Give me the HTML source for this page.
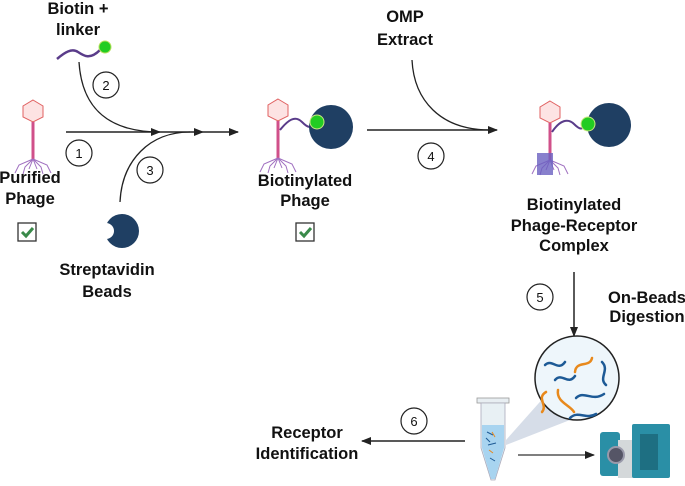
<!DOCTYPE html>
<html><head><style>
body{margin:0;background:#fff}
text{font-family:"Liberation Sans",sans-serif;font-weight:bold;font-size:16.5px;fill:#111;text-anchor:middle}
.n{font-weight:normal;font-size:13px}
</style></head><body>
<svg width="685" height="481" viewBox="0 0 685 481" xmlns="http://www.w3.org/2000/svg">
<defs>
<marker id="a" markerWidth="10" markerHeight="8" refX="9" refY="4" orient="auto" markerUnits="userSpaceOnUse"><path d="M0,0 L10,4 L0,8z" fill="#222"/></marker>
<mask id="bite"><rect x="0" y="0" width="685" height="481" fill="#fff"/><circle cx="106" cy="231" r="8" fill="#000"/></mask>
<g id="phage">
<polygon points="0,-11 10,-5 10,6 0,11 -10,6 -10,-5" fill="#fde3e3" stroke="#e06060" stroke-width="1"/>
<rect x="-1.5" y="11" width="3" height="37" fill="#d0508a"/>
<path d="M0,48 L-14,54 L-18,62 M0,48 L-8,56 L-10,63 M0,48 L8,56 L10,63 M0,48 L14,54 L18,62 M0,48 L-4,58 M0,48 L4,58" stroke="#a070c0" stroke-width="1" fill="none"/>
</g>
<g id="chk"><rect x="-9" y="-9" width="18" height="18" fill="#fff" stroke="#333" stroke-width="1.3"/><path d="M-5,0 L-1,4 L6,-4" stroke="#3a8a4a" stroke-width="3" fill="none"/></g>
</defs>
<text x="78" y="14">Biotin +</text><text x="78" y="35">linker</text>
<path d="M57,59 C65,52 72,48 78,52 S90,60 100,50" stroke="#5a3c8a" stroke-width="2.5" fill="none"/>
<circle cx="105" cy="47" r="6" fill="#22cc22" stroke="#b8e060"/>
<path d="M79,62 C82,110 110,132 160,132" stroke="#222" stroke-width="1.3" fill="none"/>
<path d="M120,202 C122,160 150,132 190,132" stroke="#222" stroke-width="1.3" fill="none"/>
<line x1="66" y1="132" x2="160" y2="132" stroke="#222" stroke-width="1.5" marker-end="url(#a)"/>
<line x1="160" y1="132" x2="203" y2="132" stroke="#222" stroke-width="1.5" marker-end="url(#a)"/>
<line x1="203" y1="132" x2="238" y2="132" stroke="#222" stroke-width="1.5" marker-end="url(#a)"/>
<g fill="#fff" stroke="#222" stroke-width="1.2">
<circle cx="106" cy="85" r="13"/><circle cx="79" cy="153" r="13"/><circle cx="150" cy="170" r="13"/>
<circle cx="431" cy="156" r="13"/><circle cx="540" cy="297" r="13"/><circle cx="414" cy="421" r="13"/></g>
<text class="n" x="106" y="90">2</text><text class="n" x="79" y="158">1</text><text class="n" x="150" y="175">3</text>
<text class="n" x="431" y="161">4</text><text class="n" x="540" y="302">5</text><text class="n" x="414" y="426">6</text>
<use href="#phage" x="33" y="111"/>
<text x="30" y="183">Purified</text><text x="30" y="204">Phage</text>
<use href="#chk" x="27" y="232"/>
<circle cx="122" cy="231" r="17" fill="#1f3f63" mask="url(#bite)"/>
<text x="107" y="275">Streptavidin</text><text x="107" y="297">Beads</text>
<use href="#phage" x="278" y="110"/>
<path d="M280,130 C288,120 295,115 302,122 S310,128 316,122" stroke="#5a3c8a" stroke-width="2" fill="none"/>
<circle cx="331" cy="127" r="22" fill="#1f3f63"/>
<circle cx="317" cy="122" r="7" fill="#22cc22" stroke="#c8e880"/>
<text x="305" y="186">Biotinylated</text><text x="305" y="206">Phage</text>
<use href="#chk" x="305" y="232"/>
<text x="405" y="22">OMP</text><text x="405" y="45">Extract</text>
<path d="M412,60 C414,100 440,130 490,130" stroke="#222" stroke-width="1.3" fill="none"/>
<line x1="367" y1="130" x2="497" y2="130" stroke="#222" stroke-width="1.5" marker-end="url(#a)"/>
<use href="#phage" x="550" y="112"/>
<rect x="537" y="153" width="16" height="22" fill="#6a60c0" opacity="0.8"/>
<path d="M552,132 C560,120 568,118 574,124 S582,130 587,124" stroke="#5a3c8a" stroke-width="2" fill="none"/>
<circle cx="609" cy="125" r="22" fill="#1f3f63"/>
<circle cx="588" cy="124" r="7" fill="#22cc22" stroke="#c8e880"/>
<text x="574" y="210">Biotinylated</text><text x="574" y="231">Phage-Receptor</text><text x="574" y="251">Complex</text>
<line x1="574" y1="272" x2="574" y2="336" stroke="#222" stroke-width="1.5" marker-end="url(#a)"/>
<text x="647" y="303">On-Beads</text><text x="647" y="322">Digestion</text>
<polygon points="506,440 546,395 570,420 506,445" fill="#d6dde8"/>
<circle cx="577" cy="378" r="42" fill="#eef6fb" stroke="#222" stroke-width="1.5"/>
<g fill="none" stroke-width="2.5" stroke-linecap="round">
<path d="M545,365 C552,358 558,372 565,362" stroke="#1d5a96"/>
<path d="M555,380 C562,372 568,386 575,376" stroke="#1d5a96"/>
<path d="M575,372 C576,360 590,368 592,358" stroke="#e8891c"/>
<path d="M602,362 C610,370 598,378 606,385" stroke="#1d5a96"/>
<path d="M546,392 C536,398 548,405 542,412" stroke="#e8891c"/>
<path d="M558,390 C556,402 570,405 574,412" stroke="#e8891c"/>
<path d="M576,398 C584,390 592,402 604,394" stroke="#1d5a96"/>
<path d="M570,418 C578,410 586,420 596,414" stroke="#1d5a96"/>
</g>
<rect x="477" y="398" width="32" height="5" fill="#e8eef2" stroke="#999" stroke-width="0.8"/>
<path d="M481,403 L505,403 L505,448 L495,480 L491,480 L481,448 Z" fill="#e8f0f4" stroke="#aab" stroke-width="0.8"/>
<path d="M482,425 L504,425 L504,448 L495,479 L491,479 L482,448 Z" fill="#a8d4f0"/>
<path d="M487,432 l6,3 M488,445 l8,-2 M490,458 l5,3 M486,438 l4,4" stroke="#1d5a96" stroke-width="1"/>
<path d="M492,432 l3,5 M489,450 l4,3" stroke="#e8891c" stroke-width="1"/>
<line x1="518" y1="455" x2="594" y2="455" stroke="#333" stroke-width="1.2" marker-end="url(#a)"/>
<rect x="600" y="432" width="20" height="44" rx="3" fill="#2a8fa6"/>
<rect x="618" y="440" width="16" height="38" fill="#d4d8da"/>
<rect x="632" y="424" width="38" height="54" rx="2" fill="#2a8fa6"/>
<rect x="640" y="434" width="18" height="36" fill="#1e6f82"/>
<circle cx="616" cy="455" r="8" fill="#556" stroke="#99a" stroke-width="2"/>
<line x1="465" y1="441" x2="362" y2="441" stroke="#222" stroke-width="1.5" marker-end="url(#a)"/>
<text x="307" y="438">Receptor</text><text x="307" y="459">Identification</text>
</svg>
</body></html>
